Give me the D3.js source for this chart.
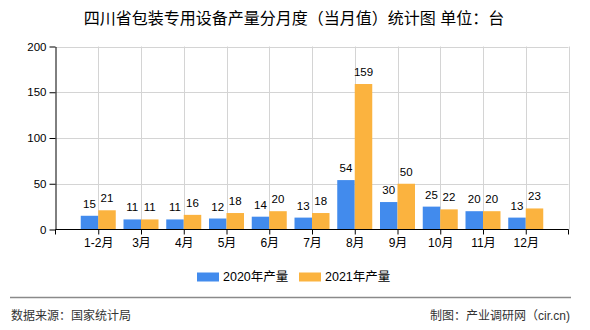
<!DOCTYPE html>
<html><head><meta charset="utf-8">
<script src="https://cdn.jsdelivr.net/npm/d3@7"></script>
<style>
html,body{margin:0;padding:0;background:#fff;}
text{font-family:"Liberation Sans","Noto Sans CJK SC",sans-serif;}
</style>
</head><body>
<svg id="chart" width="590" height="330"></svg>
<script>
const categories = ["1-2月","3月","4月","5月","6月","7月","8月","9月","10月","11月","12月"];
const series2020 = [15,11,11,12,14,13,54,30,25,20,13];
const series2021 = [21,11,16,18,20,18,159,50,22,20,23];
const seriesNames = ["2020年产量","2021年产量"];
const colors = ["#428BED","#FBB33F"];
const yTicks = [0,50,100,150,200];
const titleText = "四川省包装专用设备产量分月度（当月值）统计图 单位：台";
const sourceText = "数据来源：国家统计局";
const creditText = "制图：产业调研网（cir.cn)";

const svg = d3.select("#chart");
const x0 = 55.5, x1 = 568.5, yTop = 46.5, yBot = 229.5;
const step = (x1 - x0) / (categories.length + 1);
const x = d3.scalePoint().domain(categories).range([x0 + step, x1 - step]);
const y = d3.scaleLinear().domain([0,200]).range([yBot, yTop]);
const bw = 17.5;

// title
svg.append("text").attr("x",294).attr("y",24).attr("text-anchor","middle")
  .attr("font-size",16).attr("fill","#000").text(titleText);

// gridlines horizontal
svg.append("g").selectAll("line").data(yTicks.filter(d=>d>0)).join("line")
  .attr("x1",x0).attr("x2",x1).attr("y1",d=>Math.round(y(d))+0.5).attr("y2",d=>Math.round(y(d))+0.5)
  .attr("stroke","#d4d4d4").attr("stroke-width",1);
// gridlines vertical
const vx = categories.map(c=>x(c)).concat([x1]);
svg.append("g").selectAll("line").data(vx).join("line")
  .attr("x1",d=>Math.round(d)+0.5).attr("x2",d=>Math.round(d)+0.5).attr("y1",yTop).attr("y2",yBot)
  .attr("stroke","#d4d4d4").attr("stroke-width",1);

// bars
const groups = [series2020, series2021];
groups.forEach((vals,si)=>{
  svg.append("g").selectAll("rect").data(vals).join("rect")
    .attr("x",(d,i)=>x(categories[i]) + (si===0 ? -bw : 0))
    .attr("width",bw)
    .attr("y",d=>y(d)).attr("height",d=>yBot - y(d))
    .attr("fill",colors[si]);
  svg.append("g").selectAll("text").data(vals).join("text")
    .attr("x",(d,i)=>x(categories[i]) + (si===0 ? -bw/2 : bw/2))
    .attr("y",d=>y(d)-8)
    .attr("text-anchor","middle").attr("font-size",11.5).attr("fill","#000")
    .text(d=>d);
});

// y axis
const yAxis = svg.append("g").attr("transform",`translate(${x0},0)`)
  .call(d3.axisLeft(y).tickValues(yTicks).tickSize(6).tickSizeOuter(0));
yAxis.select(".domain").attr("stroke","#000");
yAxis.selectAll(".tick line").attr("stroke","#000");
yAxis.selectAll(".tick text").attr("font-size",11.5).attr("fill","#000").attr("x",-9)
  .style("font-family",'"Liberation Sans",sans-serif');

// x axis
const xAxis = svg.append("g").attr("transform",`translate(0,${yBot})`)
  .call(d3.axisBottom(x).tickSize(5).tickSizeOuter(0));
xAxis.select(".domain").attr("d",`M${x0},0H${x1}`).attr("stroke","#000");
xAxis.selectAll(".tick line").attr("stroke","#000");
xAxis.selectAll(".tick text").attr("font-size",12).attr("fill","#000").attr("y",9)
  .style("font-family",'"Liberation Sans","Noto Sans CJK SC",sans-serif');
[x0,x1].forEach(v=>{
  xAxis.append("line").attr("x1",v).attr("x2",v).attr("y1",0).attr("y2",5).attr("stroke","#000");
});

// legend
const legX = [197,299];
seriesNames.forEach((n,i)=>{
  svg.append("rect").attr("x",legX[i]).attr("y",272.5).attr("width",22).attr("height",9).attr("fill",colors[i]);
  svg.append("text").attr("x",legX[i]+26).attr("y",281).attr("font-size",12.5).attr("fill","#000").text(n);
});

// separator
svg.append("line").attr("x1",10).attr("x2",571).attr("y1",297.5).attr("y2",297.5)
  .attr("stroke","#8a8a8a").attr("stroke-width",1.5);

// footer
svg.append("text").attr("x",11).attr("y",320).attr("font-size",12).attr("fill","#333").text(sourceText);
svg.append("text").attr("x",570).attr("y",320).attr("text-anchor","end").attr("font-size",12).attr("fill","#333").text(creditText);
</script>
</body></html>
